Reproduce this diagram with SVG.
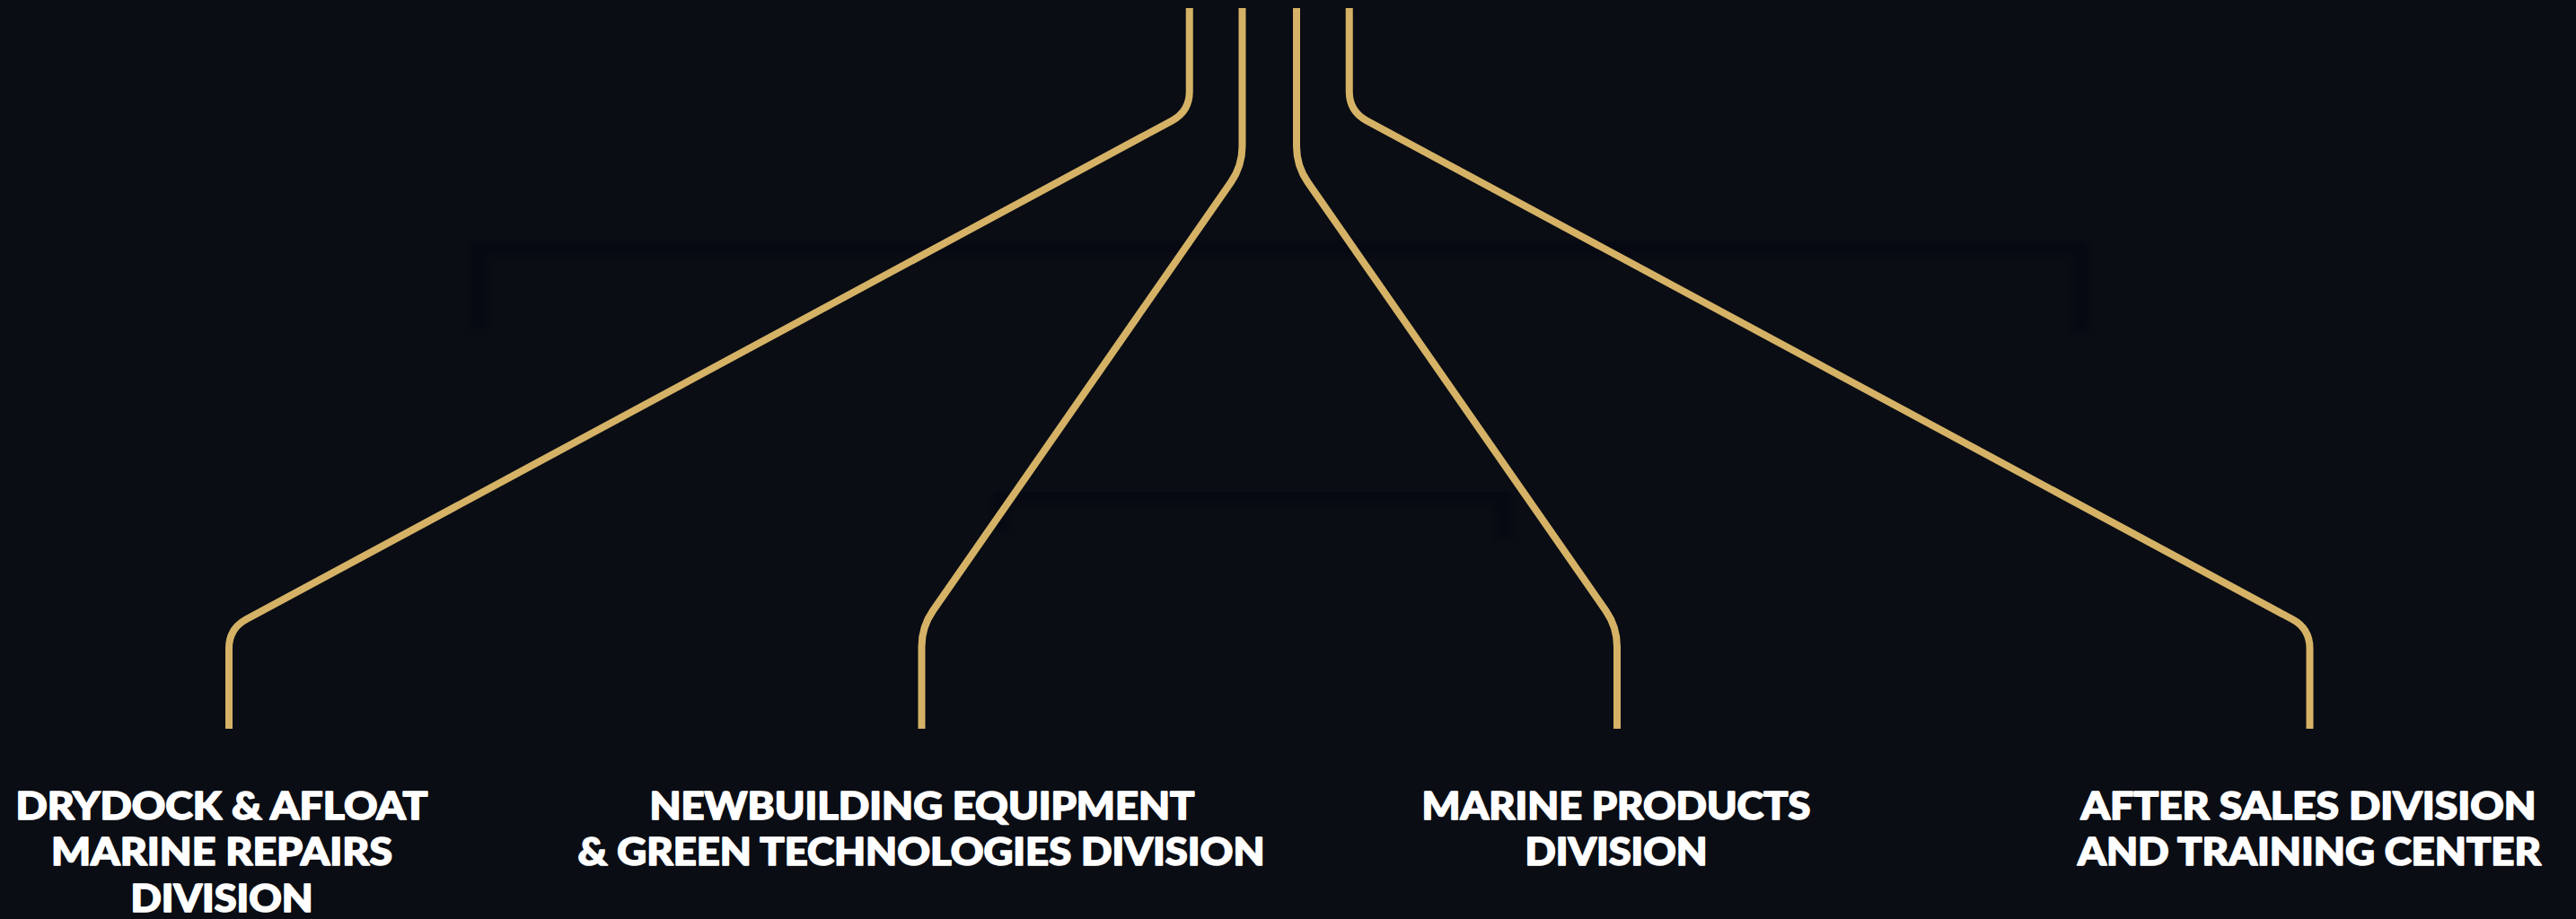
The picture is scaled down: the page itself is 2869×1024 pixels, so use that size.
<svg xmlns="http://www.w3.org/2000/svg" width="2869" height="1024" viewBox="0 0 2869 1024">
  <defs>
    <style>
      .bg { fill: #0a0d14; }
      .conn { fill: none; stroke: #d5b266; stroke-width: 8; stroke-linecap: butt; stroke-linejoin: round; }
      .ghost { fill: none; stroke: #050608; stroke-width: 16; opacity: 0.3; filter: url(#soft); }
      .label { fill: #ffffff; stroke: #ffffff; stroke-width: 1.6; stroke-linejoin: round; font-family: "Lato", "Liberation Sans", sans-serif; font-weight: 900; font-size: 42px; text-anchor: middle; }
    </style>
    <filter id="soft" x="-10%" y="-10%" width="120%" height="120%">
      <feGaussianBlur stdDeviation="3.5"/>
    </filter>
  </defs>

  <rect class="bg" x="0" y="0" width="2869" height="1024"/>

  <g id="background-ghost">
    <path class="ghost" d="M 533 367 V 276 H 2318 V 370"/>
    <path class="ghost" d="M 1400 276 V 373"/>
    <path class="ghost" d="M 1400 497 V 553"/>
    <path class="ghost" d="M 1115 593 V 553 H 1674 V 600"/>
  </g>

  <g id="connectors">
    <path class="conn" d="M 1324.75 9 V 102 Q 1324.75 124 1305.4 134.4 L 274.4 690.1 Q 255 700.5 255 722.5 V 812"/>
    <path class="conn" d="M 1383.5 9 V 163 Q 1383.5 185 1370.9 203.1 L 1039.1 680.4 Q 1026.5 698.5 1026.5 720.5 V 812"/>
    <path class="conn" d="M 1444 9 V 163 Q 1444 185 1456.6 203.1 L 1788.4 680.4 Q 1801 698.5 1801 720.5 V 812"/>
    <path class="conn" d="M 1502.75 9 V 102 Q 1502.75 124 1522.1 134.4 L 2553.1 690.1 Q 2572.5 700.5 2572.5 722.5 V 812"/>
  </g>

  <g id="node-drydock">
    <text class="label" x="247" y="913" textLength="459" lengthAdjust="spacingAndGlyphs">DRYDOCK &amp; AFLOAT</text>
    <text class="label" x="247" y="964" textLength="380" lengthAdjust="spacingAndGlyphs">MARINE REPAIRS</text>
    <text class="label" x="247" y="1015.5" textLength="203" lengthAdjust="spacingAndGlyphs">DIVISION</text>
  </g>

  <g id="node-newbuilding">
    <text class="label" x="1027" y="913" textLength="607" lengthAdjust="spacingAndGlyphs">NEWBUILDING EQUIPMENT</text>
    <text class="label" x="1026" y="964" textLength="765" lengthAdjust="spacingAndGlyphs">&amp; GREEN TECHNOLOGIES DIVISION</text>
  </g>

  <g id="node-marine-products">
    <text class="label" x="1800" y="913" textLength="433" lengthAdjust="spacingAndGlyphs">MARINE PRODUCTS</text>
    <text class="label" x="1800" y="964" textLength="203" lengthAdjust="spacingAndGlyphs">DIVISION</text>
  </g>

  <g id="node-after-sales">
    <text class="label" x="2571" y="913" textLength="507" lengthAdjust="spacingAndGlyphs">AFTER SALES DIVISION</text>
    <text class="label" x="2572" y="964" textLength="516" lengthAdjust="spacingAndGlyphs">AND TRAINING CENTER</text>
  </g>
</svg>
